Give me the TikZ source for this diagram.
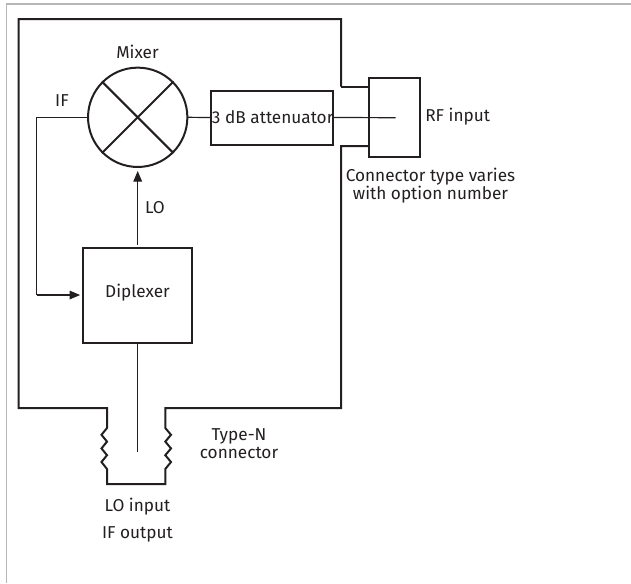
\documentclass[tikz,border=0pt]{standalone}
\usepackage{fontspec}
\setmainfont{Fira Sans}
\usetikzlibrary{arrows.meta,calc,positioning}
\definecolor{inkblack}{HTML}{231F20}
\definecolor{framegray}{HTML}{B4B6B8}
\tikzset{
  heavy/.style={draw=inkblack,line width=1.5pt},
  wire/.style={draw=inkblack,line width=0.9pt},
  block/.style={heavy,minimum width=0pt,inner sep=0pt},
  lbl/.style={text=inkblack,inner sep=0pt,font=\fontsize{12.9}{13.5}\selectfont,align=center},
  flow/.style={wire,-{Triangle[length=8pt,width=6.5pt]}}
}
\begin{document}
\begin{tikzpicture}[x=0.75pt,y=0.75pt,yscale=-1,xscale=1]
\useasboundingbox (0,0) rectangle (631,583);

\draw[framegray,line width=1pt] (631,4) -- (6.5,4) -- (6.5,583);

% instrument outline with the two connectors
\draw[heavy,line join=miter] (341,86.7) -- (341,19) -- (18.5,19) -- (18.5,408) -- (107,408) -- (107,428)
  -- (101.5,434.8) -- (107,441.6) -- (101.5,448.4) -- (107,455.2) -- (101.5,462) -- (107,469)
  -- (107,484) -- (165.3,484) -- (165.3,469)
  -- (171,462) -- (165.3,455.2) -- (171,448.4) -- (165.3,441.6) -- (171,434.8) -- (165.3,428)
  -- (165.3,408) -- (341,408) -- (341,146) -- (369,146);
\draw[heavy] (341,86.7) -- (369,86.7);

\node[block,circle,minimum size=74.5pt] (mixer) at (137.7,117.3) {};
\draw[heavy] (mixer.45) -- (mixer.225);
\draw[heavy] (mixer.135) -- (mixer.-45);
\node[block,minimum width=91.5pt,minimum height=40.5pt] (atten) at (272.2,117.5) {};
\node[block,minimum width=81.5pt,minimum height=71pt] (diplex) at (137.5,295.5) {};
\node[block,minimum width=38.5pt,minimum height=59pt] (rfbox) at (394.7,117.8) {};

\coordinate (rfend) at (395.7,117.7);
\coordinate (ifbend) at (36.5,117.3);
\coordinate (ifdown) at (36.5,295);
\coordinate (ifin) at (diplex.west |- ifdown);
\coordinate (lopin) at (137.7,451.7);

\draw[wire] (mixer) ++(49.5,0) -- (atten.west);
\draw[wire] (atten.east) -- (rfend);
\draw[wire] (mixer.west) -- (ifbend) -- (ifdown);
\draw[flow] (ifdown) -- ($(ifin)+(-2,0)$);
\draw[flow] ($(diplex.north -| mixer)+(0,-2.5)$) -- ($(mixer.south)+(0,3)$);
\draw[wire] (diplex.south -| mixer) -- (lopin);

\node[lbl] (mixertxt) at (137.5,52) {Mixer};
\node[lbl] (iftxt) at (62,101) {IF};
\node[lbl] (lotxt) at (155,208) {LO};
\node[lbl] (diptxt) at (137.5,293) {Diplexer};
\node[lbl] (atttxt) at (272.7,117.5) {3 dB attenuator};
\node[lbl,anchor=west] (rftxt) at (425,117) {RF input};
\node[lbl] (contxt) at (430.5,186) {Connector type varies\\with option number};
\node[lbl] (typetxt) at (239,444) {Type-N\\connector};
\node[lbl] (lointxt) at (137.5,507) {LO input};
\node[lbl] (ifouttxt) at (137.5,534) {IF output};

\end{tikzpicture}
\end{document}
